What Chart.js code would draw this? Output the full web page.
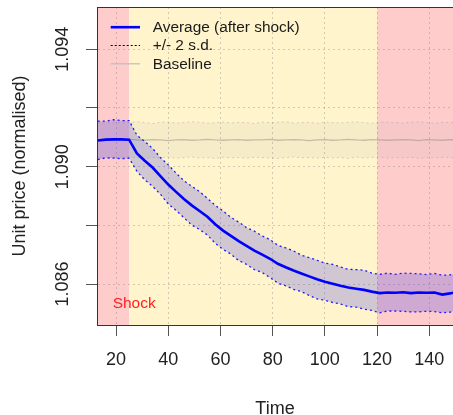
<!DOCTYPE html>
<html><head><meta charset="utf-8">
<script src="https://cdn.jsdelivr.net/npm/chart.js@4/dist/chart.umd.min.js"></script>
<style>html,body{margin:0;padding:0;background:#fff;overflow:hidden}</style>
</head><body>
<canvas id="c" width="453" height="415"></canvas>
<script>
// ---- data ----
const time = [13,16,19,22,25,28,31,34,37,40,43,46,49,52,55,58,61,64,67,70,73,76,79,82,85,88,91,94,97,100,103,106,109,112,115,118,121,124,127,130,133,136,139,142,145,148,151];
const avgMean = [1.09089,1.09092,1.09093,1.09093,1.09092,1.09045,1.09020,1.08997,1.08968,1.08939,1.08914,1.08890,1.08868,1.08849,1.08829,1.08804,1.08782,1.08764,1.08746,1.08730,1.08714,1.08700,1.08686,1.08669,1.08657,1.08646,1.08636,1.08626,1.08616,1.08608,1.08601,1.08594,1.08588,1.08584,1.08580,1.08574,1.08569,1.08571,1.08570,1.08572,1.08569,1.08571,1.08570,1.08571,1.08564,1.08568,1.08574];
const avgUpper = [1.09155,1.09155,1.09160,1.09157,1.09157,1.09107,1.09086,1.09062,1.09031,1.09006,1.08978,1.08952,1.08933,1.08915,1.08892,1.08868,1.08849,1.08827,1.08811,1.08792,1.08780,1.08764,1.08751,1.08732,1.08723,1.08713,1.08698,1.08690,1.08681,1.08671,1.08667,1.08658,1.08650,1.08649,1.08647,1.08637,1.08633,1.08637,1.08633,1.08637,1.08636,1.08635,1.08632,1.08636,1.08630,1.08631,1.08638];
const avgLower = [1.09024,1.09030,1.09029,1.09027,1.09029,1.08984,1.08955,1.08933,1.08906,1.08873,1.08851,1.08826,1.08801,1.08786,1.08767,1.08739,1.08718,1.08702,1.08680,1.08667,1.08649,1.08639,1.08622,1.08603,1.08594,1.08582,1.08574,1.08561,1.08549,1.08545,1.08537,1.08532,1.08523,1.08521,1.08514,1.08510,1.08502,1.08508,1.08508,1.08507,1.08505,1.08505,1.08507,1.08506,1.08502,1.08504,1.08511];
const baseMean = [1.09091,1.09092,1.09090,1.09091,1.09093,1.09091,1.09090,1.09092,1.09091,1.09089,1.09091,1.09092,1.09090,1.09091,1.09093,1.09091,1.09090,1.09091,1.09092,1.09090,1.09091,1.09091,1.09093,1.09090,1.09091,1.09092,1.09091,1.09089,1.09091,1.09092,1.09090,1.09091,1.09093,1.09091,1.09090,1.09092,1.09091,1.09090,1.09091,1.09092,1.09091,1.09089,1.09092,1.09091,1.09090,1.09092,1.09091];
const baseUpper = [1.09150,1.09148,1.09152,1.09149,1.09151,1.09153,1.09150,1.09147,1.09151,1.09152,1.09149,1.09150,1.09153,1.09151,1.09148,1.09150,1.09152,1.09149,1.09151,1.09150,1.09147,1.09152,1.09150,1.09151,1.09153,1.09149,1.09150,1.09151,1.09148,1.09152,1.09150,1.09149,1.09151,1.09153,1.09150,1.09148,1.09151,1.09152,1.09150,1.09149,1.09151,1.09153,1.09150,1.09148,1.09151,1.09150,1.09152];
const baseLower = [1.09031,1.09029,1.09032,1.09030,1.09033,1.09031,1.09028,1.09031,1.09030,1.09032,1.09029,1.09031,1.09033,1.09030,1.09031,1.09028,1.09032,1.09030,1.09031,1.09029,1.09032,1.09031,1.09030,1.09028,1.09031,1.09033,1.09030,1.09031,1.09029,1.09032,1.09030,1.09031,1.09028,1.09032,1.09030,1.09031,1.09033,1.09029,1.09031,1.09030,1.09032,1.09028,1.09031,1.09030,1.09032,1.09031,1.09029];
const xTicks = [20,40,60,80,100,120,140];
const yTicks = [1.086,1.088,1.090,1.092,1.094];
const yTickLabels = ['1.086','','1.090','','1.094'];
const phaseBounds = [12.7, 25, 120, 149.1];   // shock | recovery | settled
const xRange = [12.7, 149.1];
const yRange = [1.084603, 1.095441];
const legendLabels = ['Average (after shock)', '+/- 2 s.d.', 'Baseline'];
const shockLabel = {text: 'Shock', x: 18.7, y: 1.08532};

// ---- drawing ----
const FONT = "'Liberation Sans', Arial, sans-serif";
Chart.defaults.font.family = FONT;
const pts = ys => time.map((t, i) => ({x: t, y: ys[i]}));
const phaseColors = ['#FFCCCC', '#FFF4CC', '#FFCCCC'];

const bgPlugin = {
  id: 'bg',
  beforeDraw(chart) {
    const {ctx, chartArea: a, scales: {x}} = chart;
    ctx.save();
    ctx.fillStyle = '#fff';
    ctx.fillRect(0, 0, chart.width, chart.height);
    for (let i = 0; i < phaseBounds.length - 1; i++) {
      const x0 = Math.max(a.left, x.getPixelForValue(phaseBounds[i]));
      const x1 = Math.min(a.right, x.getPixelForValue(phaseBounds[i + 1]));
      ctx.fillStyle = phaseColors[i];
      ctx.fillRect(x0, a.top, x1 - x0, a.bottom - a.top);
    }
    ctx.restore();
  },
  afterDraw(chart) {
    const {ctx, chartArea: a, scales: {x, y}} = chart;
    ctx.save();
    // frame
    ctx.strokeStyle = '#333';
    ctx.lineWidth = 1;
    ctx.beginPath();
    ctx.moveTo(a.right + 2, a.top + 0.5);
    ctx.lineTo(a.left + 0.5, a.top + 0.5);
    ctx.lineTo(a.left + 0.5, a.bottom + 0.5);
    ctx.lineTo(a.right + 2, a.bottom + 0.5);
    ctx.stroke();
    // shock label
    ctx.fillStyle = '#ff2020';
    ctx.font = '15.5px ' + FONT;
    ctx.textAlign = 'left';
    ctx.textBaseline = 'middle';
    ctx.fillText(shockLabel.text, x.getPixelForValue(shockLabel.x), y.getPixelForValue(shockLabel.y));
    // legend
    const lx0 = a.left + 13.7, lx1 = a.left + 43, tx = a.left + 55.7;
    const rows = [a.top + 19.7, a.top + 38, a.top + 56.3];
    const styles = [
      {c: '#0000ff', w: 2.6, d: []},
      {c: '#000', w: 1.2, d: [2, 2]},
      {c: '#bdbdbd', w: 1.2, d: []}
    ];
    ctx.font = '15.4px ' + FONT;
    rows.forEach((ry, i) => {
      ctx.strokeStyle = styles[i].c;
      ctx.lineWidth = styles[i].w;
      ctx.setLineDash(styles[i].d);
      ctx.beginPath();
      ctx.moveTo(lx0, ry + 0.5);
      ctx.lineTo(lx1, ry + 0.5);
      ctx.stroke();
      ctx.setLineDash([]);
      ctx.fillStyle = '#1a1a1a';
      ctx.fillText(legendLabels[i], tx, ry + 1);
    });
    ctx.restore();
  }
};

const gridOpts = {color: 'rgba(120,120,120,0.35)', lineWidth: 1, tickLength: 11, tickColor: '#555', tickWidth: 1, drawTicks: true};
const borderOpts = {display: true, color: '#333', width: 1, dash: [2, 3]};

new Chart(document.getElementById('c'), {
  type: 'line',
  data: {
    datasets: [
      {label: legendLabels[0], data: pts(avgMean), borderColor: '#0000ff', borderWidth: 2.6, pointRadius: 0, fill: false, order: 0, tension: 0},
      {label: 'upper', data: pts(avgUpper), borderColor: '#1a1aff', borderWidth: 1.3, borderDash: [2, 3], pointRadius: 0, fill: '+1', backgroundColor: 'rgba(60,60,235,0.24)', order: 1},
      {label: 'lower', data: pts(avgLower), borderColor: '#1a1aff', borderWidth: 1.3, borderDash: [2, 3], pointRadius: 0, fill: false, order: 1},
      {label: legendLabels[2], data: pts(baseMean), borderColor: 'rgba(140,130,115,0.45)', borderWidth: 1.3, pointRadius: 0, fill: false, order: 3},
      {label: 'bu', data: pts(baseUpper), borderColor: 'rgba(140,140,140,0.35)', borderWidth: 1, borderDash: [2, 3], pointRadius: 0, fill: '+1', backgroundColor: 'rgba(150,150,150,0.08)', order: 4},
      {label: 'bl', data: pts(baseLower), borderColor: 'rgba(140,140,140,0.35)', borderWidth: 1, borderDash: [2, 3], pointRadius: 0, fill: false, order: 4}
    ]
  },
  options: {
    responsive: false,
    animation: false,
    devicePixelRatio: 1,
    layout: {padding: {top: 7, left: 0, right: 0, bottom: 0}},
    plugins: {legend: {display: false}, tooltip: {enabled: false}},
    scales: {
      x: {
        type: 'linear', min: xRange[0], max: xRange[1],
        afterBuildTicks: s => { s.ticks = xTicks.map(v => ({value: v})); },
        afterFit: s => { s.height = 90; s.paddingLeft = 0; s.paddingRight = 0; },
        ticks: {font: {size: 18}, color: '#222', padding: 13, maxRotation: 0, minRotation: 0, autoSkip: false, callback: v => String(v)},
        grid: gridOpts, border: borderOpts,
        title: {display: true, text: 'Time', font: {size: 18}, color: '#222', padding: {top: 0, bottom: -5}}
      },
      y: {
        type: 'linear', min: yRange[0], max: yRange[1],
        afterBuildTicks: s => { s.ticks = yTicks.map(v => ({value: v})); },
        afterFit: s => { s.width = 97; s.paddingTop = 0; s.paddingBottom = 0; },
        ticks: {font: {size: 18}, color: '#222', padding: 0, minRotation: 90, maxRotation: 90, crossAlign: 'center', autoSkip: false, callback: (v, i) => yTickLabels[i]},
        grid: gridOpts, border: borderOpts,
        title: {display: true, text: 'Unit price (normalised)', font: {size: 18}, color: '#222', padding: {top: 9, bottom: 0}}
      }
    }
  },
  plugins: [bgPlugin]
});
</script>
</body></html>
